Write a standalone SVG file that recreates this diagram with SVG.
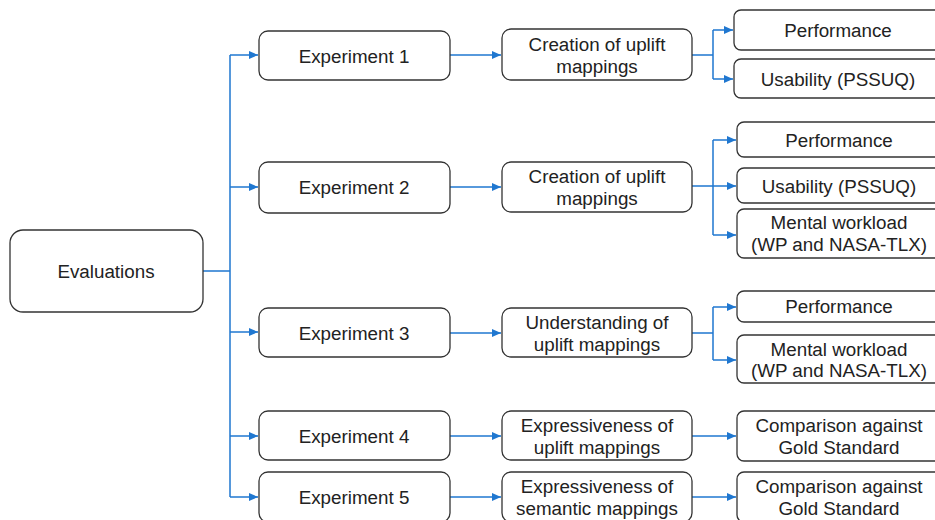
<svg xmlns="http://www.w3.org/2000/svg" width="935" height="520" viewBox="0 0 935 520">
<style>
.box{fill:#fff;stroke:#333;stroke-width:1.3}
.t{font-family:"Liberation Sans",Arial,sans-serif;font-size:18.8px;fill:#222;text-anchor:middle;dominant-baseline:central}
.c{fill:none;stroke:#1f77d0;stroke-width:1.5}
.a{fill:none;stroke:#1f77d0;stroke-width:1.5;marker-end:url(#ah)}
</style>
<defs>
<marker id="ah" markerUnits="userSpaceOnUse" markerWidth="10" markerHeight="9" refX="9" refY="4" orient="auto">
<path d="M0,0 L9,4 L0,8 z" fill="#1f77d0"/>
</marker>
</defs>
<rect width="935" height="520" fill="#fff"/>
<g id="connectors">
<path class="c" d="M203,271 H230 M230,55 V497"/>
<path class="a" d="M230,55 H258"/>
<path class="a" d="M230,187 H258"/>
<path class="a" d="M230,332 H258"/>
<path class="a" d="M230,436 H258"/>
<path class="a" d="M230,497 H258"/>
<path class="a" d="M450,55 H501"/>
<path class="a" d="M450,187 H501"/>
<path class="a" d="M450,333 H501"/>
<path class="a" d="M450,436 H501"/>
<path class="a" d="M450,497 H501"/>
<path class="c" d="M692,55 H713 M713,30 V79"/>
<path class="a" d="M713,30 H733"/>
<path class="a" d="M713,79 H733"/>
<path class="c" d="M692,186 H713 M713,140 V235"/>
<path class="a" d="M713,140 H736"/>
<path class="a" d="M713,186 H736"/>
<path class="a" d="M713,235 H736"/>
<path class="c" d="M692,333 H713 M713,307 V360"/>
<path class="a" d="M713,307 H736"/>
<path class="a" d="M713,360 H736"/>
<path class="a" d="M692,436 H736"/>
<path class="a" d="M692,497 H736"/>
</g>
<g id="evaluations"><rect class="box" x="10" y="230" width="193" height="82" rx="13"/><text class="t" x="106" y="271">Evaluations</text></g>
<g id="exp1"><rect class="box" x="259" y="31" width="191" height="49" rx="9"/><text class="t" x="354" y="56">Experiment 1</text></g>
<g id="exp2"><rect class="box" x="259" y="162" width="191" height="51" rx="9"/><text class="t" x="354" y="187">Experiment 2</text></g>
<g id="exp3"><rect class="box" x="259" y="308" width="191" height="49" rx="9"/><text class="t" x="354" y="333">Experiment 3</text></g>
<g id="exp4"><rect class="box" x="259" y="411" width="191" height="49" rx="9"/><text class="t" x="354" y="436">Experiment 4</text></g>
<g id="exp5"><rect class="box" x="259" y="472" width="191" height="50" rx="9"/><text class="t" x="354" y="497">Experiment 5</text></g>
<g id="mid1"><rect class="box" x="502" y="29" width="190" height="51" rx="9"/><text class="t" x="597" y="44">Creation of uplift</text><text class="t" x="597" y="66">mappings</text></g>
<g id="mid2"><rect class="box" x="502" y="162" width="190" height="50" rx="9"/><text class="t" x="597" y="176">Creation of uplift</text><text class="t" x="597" y="198">mappings</text></g>
<g id="mid3"><rect class="box" x="502" y="308" width="190" height="49" rx="9"/><text class="t" x="597" y="322">Understanding of</text><text class="t" x="597" y="344">uplift mappings</text></g>
<g id="mid4"><rect class="box" x="502" y="411" width="190" height="49" rx="9"/><text class="t" x="597" y="425">Expressiveness of</text><text class="t" x="597" y="447">uplift mappings</text></g>
<g id="mid5"><rect class="box" x="502" y="472" width="190" height="50" rx="9"/><text class="t" x="597" y="486">Expressiveness of</text><text class="t" x="597" y="508">semantic mappings</text></g>
<g id="perf1"><rect class="box" x="734" y="10" width="208" height="40" rx="7"/><text class="t" x="838" y="30">Performance</text></g>
<g id="usab1"><rect class="box" x="734" y="59" width="208" height="39" rx="7"/><text class="t" x="838" y="79">Usability (PSSUQ)</text></g>
<g id="perf2"><rect class="box" x="737" y="122" width="205" height="35" rx="7"/><text class="t" x="839" y="140">Performance</text></g>
<g id="usab2"><rect class="box" x="737" y="168" width="205" height="35" rx="7"/><text class="t" x="839" y="186">Usability (PSSUQ)</text></g>
<g id="mental2"><rect class="box" x="737" y="209" width="205" height="49" rx="7"/><text class="t" x="839" y="222">Mental workload</text><text class="t" x="839" y="244">(WP and NASA-TLX)</text></g>
<g id="perf3"><rect class="box" x="737" y="291" width="205" height="31" rx="7"/><text class="t" x="839" y="306">Performance</text></g>
<g id="mental3"><rect class="box" x="737" y="335" width="205" height="48" rx="7"/><text class="t" x="839" y="349">Mental workload</text><text class="t" x="839" y="370">(WP and NASA-TLX)</text></g>
<g id="gold4"><rect class="box" x="737" y="411" width="205" height="50" rx="7"/><text class="t" x="839" y="425">Comparison against</text><text class="t" x="839" y="447">Gold Standard</text></g>
<g id="gold5"><rect class="box" x="737" y="472" width="205" height="50" rx="7"/><text class="t" x="839" y="486">Comparison against</text><text class="t" x="839" y="508">Gold Standard</text></g>
</svg>
